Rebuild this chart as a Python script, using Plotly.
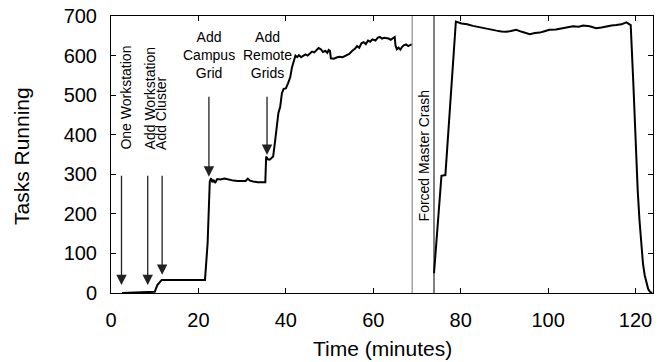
import plotly.graph_objects as go

# ---- data ----
run1_time = [2.5, 5, 8, 10.0, 10.6, 11.6, 15, 21.5, 22.1, 22.6, 22.9, 23.2, 23.5, 23.8, 24.3, 25, 26, 27, 28, 29, 30,
             30.8, 31.3, 31.8, 32.5, 33.5, 34.5, 35.3, 35.5, 35.9, 36.3, 36.7, 37.1, 37.5, 37.9, 38.3, 38.7, 39.1,
             39.5, 40.0, 40.5, 41.0, 41.4, 41.8, 42.2, 42.6, 43.0, 43.5, 44.0, 44.5, 45.0, 45.5, 46.0, 46.5, 47.0,
             47.5, 48.0, 48.5, 49.0, 49.5, 49.8, 50.1, 50.3, 51.0, 51.6, 52.3, 53.0, 53.8, 54.5, 55.2, 55.8, 56.3,
             56.8, 57.3, 57.8, 58.3, 58.8, 59.3, 59.8, 60.5, 61.0, 61.5, 62.0, 62.5, 63.0, 63.5, 64.0, 64.5, 64.9,
             65.1, 65.4, 65.8, 66.2, 66.6, 67.0, 67.5, 68.0, 68.5, 68.8]
run1_tasks = [0, 0.5, 1.5, 3, 20, 33, 33, 33, 125, 282, 290, 280, 286, 278, 288, 287, 289, 286, 284, 283, 282,
              283, 289, 284, 282, 280, 280, 280, 345, 338, 337, 342, 345, 380, 420, 455, 470, 505,
              516, 517, 530, 545, 570, 585, 600, 596, 601, 596, 600, 603, 600, 606, 610, 608, 613,
              619, 616, 609, 612, 607, 614, 612, 593, 592, 595, 597, 596, 601, 604, 612, 617, 624,
              620, 631, 634, 629, 638, 635, 641, 638, 645, 647, 643, 645, 644, 643, 640, 645, 647,
              625, 616, 620, 615, 622, 626, 628, 624, 627, 628]

run2_time = [73.9, 75.6, 76.5, 78.9, 80.2, 81.5, 82.8, 84, 85.1, 86.5, 88.2, 89.3, 90.4, 91.5, 92.7, 94, 95,
             95.8, 97, 98.1, 99, 100.3, 101.8, 103.4, 104.5, 105.7, 107, 108, 109.5, 111, 112.2, 113.3, 114.5,
             115.6, 116.8, 117.9, 118.6, 118.9, 119.5, 120.0, 120.5, 120.9, 121.3, 121.7, 122.1, 122.5, 122.9,
             123.3, 123.8]
run2_tasks = [50, 296, 298, 686, 681, 679, 675, 672, 669, 667, 663, 661, 660, 662, 665, 660, 656,
              654, 657, 658, 661, 665, 666, 669, 671, 674, 673, 676, 674, 669, 671, 674, 676,
              677, 679, 684, 679, 677, 530, 380, 260, 185, 120, 75, 45, 25, 10,
              3, 0]

x_ticks = [0, 20, 40, 60, 80, 100, 120]
y_ticks = [0, 100, 200, 300, 400, 500, 600, 700]

# events: arrow x, arrow tip, arrow tail
arrow_x = [2.4, 8.4, 11.7, 22.4, 35.7]
arrow_tip = [20, 20, 46, 294, 349]
arrow_tail = [300, 300, 300, 500, 500]

divider_x = [68.9, 73.9]
divider_color = ["#777777", "#000000"]

rot_labels = ["One Workstation", "Add Workstation", "Add Cluster"]
rot_label_x = [3.4, 8.85, 11.6]
stack_labels = ["Add<br>Campus<br>Grid", "Add<br>Remote<br>Grids"]
stack_label_x = [22.5, 35.7]

FONT = "Liberation Sans, Arial, sans-serif"

fig = go.Figure()
fig.add_trace(go.Scatter(x=run1_time, y=run1_tasks, mode="lines",
                         line=dict(color="black", width=2), showlegend=False))
fig.add_trace(go.Scatter(x=run2_time, y=run2_tasks, mode="lines",
                         line=dict(color="black", width=2), showlegend=False))

for xv, c in zip(divider_x, divider_color):
    fig.add_shape(type="line", x0=xv, x1=xv, y0=0, y1=1, xref="x", yref="paper",
                  line=dict(color=c, width=1))

for xv, tip, tail in zip(arrow_x, arrow_tip, arrow_tail):
    fig.add_annotation(x=xv, y=tip, ax=xv, ay=tail, axref="x", ayref="y", xref="x", yref="y",
                       text="", showarrow=True, arrowhead=2, arrowsize=1.6, arrowwidth=1.3,
                       arrowcolor="#222222")

ann_font = dict(family=FONT, size=14, color="black")
for txt, xv in zip(rot_labels, rot_label_x):
    fig.add_annotation(x=xv, y=357, xref="x", yref="y", text=txt, textangle=-90, showarrow=False,
                       xanchor="center", yanchor="bottom", font=ann_font)
fig.add_annotation(x=71.6, y=177, xref="x", yref="y", text="Forced Master Crash", textangle=-90,
                   showarrow=False, xanchor="center", yanchor="bottom", font=ann_font)

for txt, xv in zip(stack_labels, stack_label_x):
    fig.add_annotation(x=xv, y=602, xref="x", yref="y", text=txt, showarrow=False,
                       xanchor="center", yanchor="middle", font=ann_font)

# axis titles
title_font = dict(family=FONT, size=21, color="black")
fig.add_annotation(x=0.5, y=-0.199, xref="paper", yref="paper", text="Time (minutes)",
                   showarrow=False, xanchor="center", yanchor="middle", font=title_font)
fig.add_annotation(x=-0.165, y=0.493, xref="paper", yref="paper", text="Tasks Running",
                   textangle=-90, showarrow=False, xanchor="center", yanchor="middle", font=title_font)

axis_common = dict(showline=True, linecolor="black", linewidth=1, mirror="ticks", ticks="inside",
                   ticklen=5, tickcolor="black", tickwidth=1, showgrid=False, zeroline=False,
                   tickfont=dict(family=FONT, size=20, color="black"))

fig.update_xaxes(range=[0, 124], tickvals=x_ticks, ticktext=[str(v) for v in x_ticks],
                 ticklabelstandoff=9, **axis_common)
fig.update_yaxes(range=[0, 700], tickvals=y_ticks, ticktext=[str(v) for v in y_ticks],
                 ticklabelstandoff=9, **axis_common)

fig.update_layout(width=659, height=362, margin=dict(l=111, r=6, t=16, b=69),
                  plot_bgcolor="white", paper_bgcolor="white", font=dict(family=FONT))

fig.write_html("out.html")
